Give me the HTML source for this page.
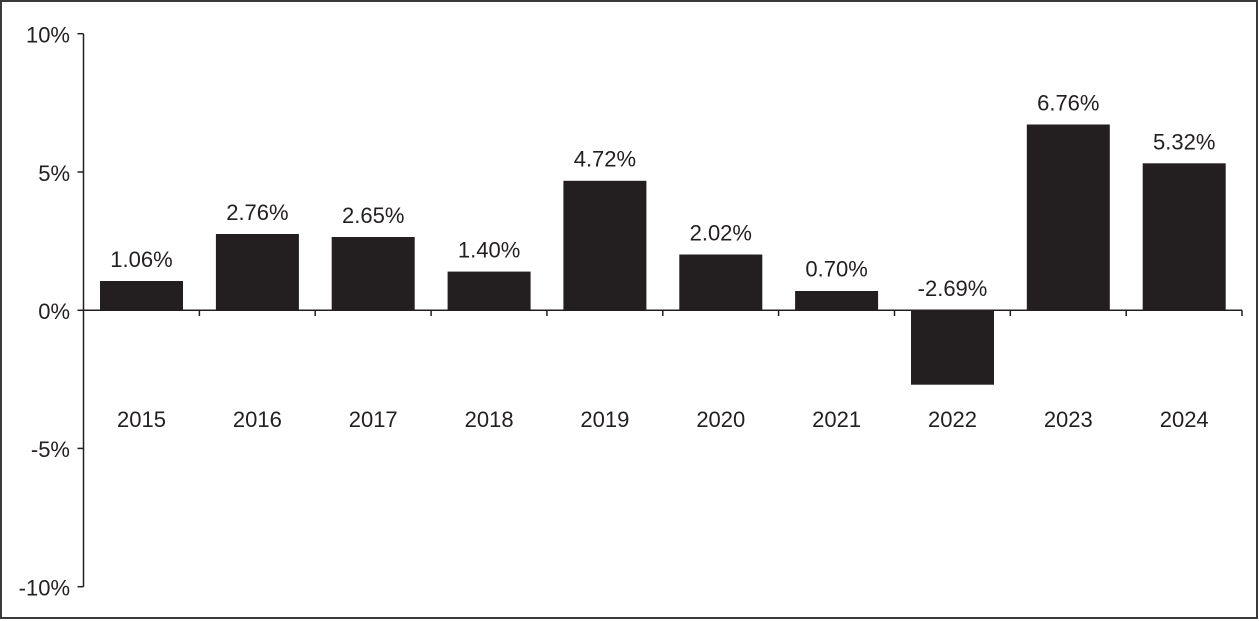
<!DOCTYPE html>
<html>
<head>
<meta charset="utf-8">
<style>
html,body{margin:0;padding:0;background:#fff;}
svg{display:block;}
text{font-family:"Liberation Sans",sans-serif;font-size:22px;fill:#231f20;}
</style>
</head>
<body>
<svg width="1259" height="621" viewBox="0 0 1259 621" xmlns="http://www.w3.org/2000/svg">
<rect x="1" y="1" width="1256" height="617" fill="#fff" stroke="#3a3a3a" stroke-width="2"/>
<!-- y axis -->
<line x1="83.5" y1="33.7" x2="83.5" y2="586.7" stroke="#231f20" stroke-width="1.5"/>
<g stroke="#231f20" stroke-width="1.5">
<line x1="77.5" y1="33.7" x2="83.5" y2="33.7"/>
<line x1="77.5" y1="172" x2="83.5" y2="172"/>
<line x1="77.5" y1="310.3" x2="83.5" y2="310.3"/>
<line x1="77.5" y1="448.4" x2="83.5" y2="448.4"/>
<line x1="77.5" y1="586.7" x2="83.5" y2="586.7"/>
</g>
<g text-anchor="end">
<text x="70" y="42.5">10%</text>
<text x="70" y="180.8">5%</text>
<text x="70" y="319">0%</text>
<text x="70" y="457">-5%</text>
<text x="70" y="595.5">-10%</text>
</g>
<!-- bars -->
<g fill="#231f20">
<rect x="100" y="281" width="83" height="29.3"/>
<rect x="215.9" y="234" width="83" height="76.3"/>
<rect x="331.7" y="237" width="83" height="73.3"/>
<rect x="447.6" y="271.6" width="83" height="38.7"/>
<rect x="563.4" y="180.8" width="83" height="129.5"/>
<rect x="679.3" y="254.5" width="83" height="55.8"/>
<rect x="795.1" y="291" width="83" height="19.3"/>
<rect x="911" y="310.3" width="83" height="74.4"/>
<rect x="1026.8" y="124.5" width="83" height="185.8"/>
<rect x="1142.7" y="163.3" width="83" height="147"/>
</g>
<!-- x axis -->
<line x1="83.5" y1="310.3" x2="1242" y2="310.3" stroke="#231f20" stroke-width="1.5"/>
<g stroke="#231f20" stroke-width="1.5">
<line x1="199.4" y1="310.3" x2="199.4" y2="316"/>
<line x1="315.2" y1="310.3" x2="315.2" y2="316"/>
<line x1="431.1" y1="310.3" x2="431.1" y2="316"/>
<line x1="546.9" y1="310.3" x2="546.9" y2="316"/>
<line x1="662.8" y1="310.3" x2="662.8" y2="316"/>
<line x1="778.6" y1="310.3" x2="778.6" y2="316"/>
<line x1="894.5" y1="310.3" x2="894.5" y2="316"/>
<line x1="1010.3" y1="310.3" x2="1010.3" y2="316"/>
<line x1="1126.2" y1="310.3" x2="1126.2" y2="316"/>
<line x1="1242" y1="310.3" x2="1242" y2="316"/>
</g>
<!-- value labels -->
<g text-anchor="middle">
<text x="141.5" y="267">1.06%</text>
<text x="257.4" y="220">2.76%</text>
<text x="373.2" y="223">2.65%</text>
<text x="489.1" y="257.5">1.40%</text>
<text x="604.9" y="166.7">4.72%</text>
<text x="720.8" y="240.5">2.02%</text>
<text x="836.6" y="276.7">0.70%</text>
<text x="952.5" y="296">-2.69%</text>
<text x="1068.3" y="110.5">6.76%</text>
<text x="1184.2" y="149.3">5.32%</text>
</g>
<!-- year labels -->
<g text-anchor="middle">
<text x="141.5" y="427">2015</text>
<text x="257.4" y="427">2016</text>
<text x="373.2" y="427">2017</text>
<text x="489.1" y="427">2018</text>
<text x="604.9" y="427">2019</text>
<text x="720.8" y="427">2020</text>
<text x="836.6" y="427">2021</text>
<text x="952.5" y="427">2022</text>
<text x="1068.3" y="427">2023</text>
<text x="1184.2" y="427">2024</text>
</g>
</svg>
</body>
</html>
